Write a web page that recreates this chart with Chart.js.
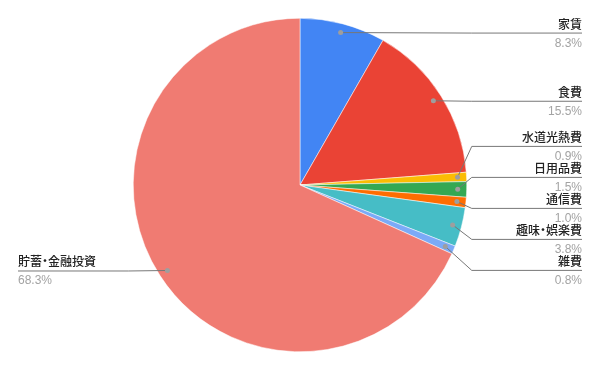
<!DOCTYPE html>
<html>
<head>
<meta charset="utf-8">
<script src="https://cdn.jsdelivr.net/npm/chart.js@4.4.1/dist/chart.umd.min.js"></script>
<style>
  body { margin: 0; background: #fff; }
</style>
</head>
<body>
<canvas id="ch1" width="600" height="371"></canvas>
<script>
// data
const categories = ['家賃', '食費', '水道光熱費', '日用品費', '通信費', '趣味・娯楽費', '雑費', '貯蓄・金融投資'];
const shares = [8.3, 15.5, 0.9, 1.5, 1.0, 3.8, 0.8, 68.3];
const sliceColors = ['#4285F4', '#EA4335', '#FBBC04', '#34A853', '#FF6D01', '#46BDC6', '#7BAAF7', '#F07B72'];

const FONT = '"Liberation Sans", Arial, "Noto Sans CJK JP", sans-serif';

// sheets draws the middle dot narrow, so squeeze its advance a bit
function labelText(ctx, text, x, y, alignRight) {
  const dotW = 6;
  const parts = text.split('・');
  let total = parts.reduce((s, t) => s + ctx.measureText(t).width, 0) + (parts.length - 1) * dotW;
  let cx = alignRight ? x - total : x;
  ctx.textAlign = 'left';
  parts.forEach((t, k) => {
    ctx.fillText(t, cx, y);
    cx += ctx.measureText(t).width;
    if (k < parts.length - 1) {
      ctx.textAlign = 'center';
      ctx.fillText('・', cx + dotW / 2, y);
      ctx.textAlign = 'left';
      cx += dotW;
    }
  });
}

// leader lines + outside labels, roughly like google sheets
const outsideLabels = {
  id: 'outsideLabels',
  afterDraw(chart) {
    const ctx = chart.ctx;
    const arcs = chart.getDatasetMeta(0).data;
    const gap = 31;
    let right = [], left = [];
    arcs.forEach((arc, i) => {
      const mid = (arc.startAngle + arc.endAngle) / 2;
      const r = arc.outerRadius - 9;
      const p = { i, cx: arc.x, cy: arc.y, R: arc.outerRadius,
        x: arc.x + Math.cos(mid) * r, y: arc.y + Math.sin(mid) * r };
      p.want = p.y;
      (Math.cos(mid) >= 0 ? right : left).push(p);
    });

    // push overlapping labels apart, keeping clusters centred on their dots
    function spread(list) {
      list.sort((a, b) => a.y - b.y);
      let groups = list.map(p => ({ items: [p], sum: p.want }));
      let moved = true;
      while (moved) {
        moved = false;
        groups.forEach(g => {
          const n = g.items.length;
          g.top = g.sum / n - (n - 1) * gap / 2;
        });
        for (let k = 0; k < groups.length - 1; k++) {
          const a = groups[k], b = groups[k + 1];
          if (a.top + a.items.length * gap > b.top) {
            a.items = a.items.concat(b.items);
            a.sum += b.sum;
            groups.splice(k + 1, 1);
            moved = true;
            break;
          }
        }
      }
      groups.forEach(g => {
        const n = g.items.length;
        const top = g.sum / n - (n - 1) * gap / 2;
        g.items.forEach((p, j) => { p.ly = top + j * gap; });
      });
    }
    spread(right);
    spread(left);

    ctx.save();
    const draw = (p, side) => {
      const elbowX = p.cx + side * (p.R + 5);
      const endX = side > 0 ? 582 : 18;
      ctx.strokeStyle = '#777';
      ctx.lineWidth = 1;
      ctx.beginPath();
      ctx.moveTo(p.x, p.y);
      ctx.lineTo(elbowX, p.ly + 0.5);
      ctx.lineTo(endX, p.ly + 0.5);
      ctx.stroke();

      ctx.fillStyle = '#9e9e9e';
      ctx.beginPath();
      ctx.arc(p.x, p.y, 2.5, 0, Math.PI * 2);
      ctx.fill();

      ctx.textBaseline = 'alphabetic';
      ctx.font = '500 12px ' + FONT;
      ctx.fillStyle = '#222';
      labelText(ctx, categories[p.i], endX, p.ly - 4, side > 0);
      ctx.font = '12px ' + FONT;
      ctx.textAlign = side > 0 ? 'right' : 'left';
      ctx.fillStyle = '#a3a3a3';
      ctx.fillText(shares[p.i].toFixed(1) + '%', endX, p.ly + 14);
    };
    right.forEach(p => draw(p, 1));
    left.forEach(p => draw(p, -1));
    ctx.restore();
  }
};

const ctx = document.getElementById('ch1').getContext('2d');
const myPieChart = new Chart(ctx, {
  type: 'pie',
  data: {
    labels: categories,
    datasets: [{
      data: shares,
      backgroundColor: sliceColors,
      borderColor: '#fff',
      borderWidth: 0.5
    }]
  },
  options: {
    responsive: false,
    animation: false,
    layout: { padding: { top: 18, bottom: 19, left: 0, right: 0 } },
    plugins: {
      legend: { display: false },
      tooltip: { enabled: false }
    }
  },
  plugins: [outsideLabels]
});
</script>
</body>
</html>
